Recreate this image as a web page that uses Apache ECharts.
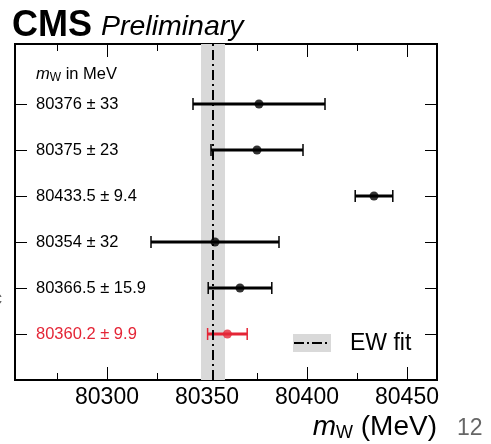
<!DOCTYPE html>
<html>
<head>
<meta charset="utf-8">
<script src="https://cdn.jsdelivr.net/npm/echarts@6/dist/echarts.min.js"></script>
<style>html,body{margin:0;padding:0;background:#fff;}#c{width:491px;height:444px;}</style>
</head>
<body>
<div id="c"></div>
<script>
// ---- data ----
const centers = [80376, 80375, 80433.5, 80354, 80366.5, 80360.2];
const errors = [33, 23, 9.4, 32, 15.9, 9.9];
const labels = ['80376 ± 33', '80375 ± 23', '80433.5 ± 9.4', '80354 ± 32', '80366.5 ± 15.9', '80360.2 ± 9.9'];
const highlightIndex = 5;
const ewFit = 80353;
const ewFitErr = 6;
const xMajorTicks = [80300, 80350, 80400, 80450];
const xMinorTicks = [80275, 80325, 80375, 80425];
const xMin = 80254, xMax = 80465;

const n = centers.length;
const rowY = centers.map((c, i) => n - i);
const yTicks = rowY.slice();
const yMax = n + 1.304;

const FONT = '"Liberation Sans", Arial, Helvetica, sans-serif';
const RED = '#e42536';

const chart = echarts.init(document.getElementById('c'));

const barData = centers.map((c, i) => [c, rowY[i], c - errors[i], c + errors[i], i]);
const ptData = centers.map((c, i) => ({
  value: [c, rowY[i]],
  itemStyle: { color: i === highlightIndex ? RED : '#000' }
}));

function xAxisCommon(pos, ticks, len, showLabel) {
  return {
    type: 'value', min: xMin, max: xMax, position: pos,
    axisLine: { show: false },
    splitLine: { show: false },
    axisTick: { show: true, inside: true, length: len, customValues: ticks, lineStyle: { color: '#000', width: 1 } },
    axisLabel: showLabel ? {
      show: true, customValues: ticks, margin: 6, color: '#000', fontSize: 23, fontFamily: FONT,
      formatter: v => String(v)
    } : { show: false }
  };
}

const option = {
  animation: false,
  backgroundColor: '#fff',
  grid: { left: 15, right: 54, top: 44, bottom: 64, show: true, borderColor: '#000', borderWidth: 2, backgroundColor: 'transparent' },
  xAxis: [
    xAxisCommon('bottom', xMajorTicks, 13, true),
    xAxisCommon('bottom', xMinorTicks, 7, false),
    xAxisCommon('top', xMajorTicks, 13, false),
    xAxisCommon('top', xMinorTicks, 7, false)
  ],
  yAxis: [
    {
      type: 'value', min: 0, max: yMax, position: 'left',
      axisLine: { show: false }, splitLine: { show: false },
      axisTick: { show: true, inside: true, length: 12, customValues: yTicks, lineStyle: { color: '#000' } },
      axisLabel: {
        show: true, inside: true, margin: 21, customValues: yTicks, align: 'left',
        fontSize: 16.5, fontFamily: FONT, color: '#000',
        formatter: v => {
          const i = n - v;
          return i === highlightIndex ? '{r|' + labels[i] + '}' : labels[i];
        },
        rich: { r: { color: RED, fontSize: 16.5, fontFamily: FONT } }
      }
    },
    {
      type: 'value', min: 0, max: yMax, position: 'right',
      axisLine: { show: false }, splitLine: { show: false },
      axisTick: { show: true, inside: true, length: 12, customValues: yTicks, lineStyle: { color: '#000' } },
      axisLabel: { show: false }
    }
  ],
  series: [
    {
      type: 'line', data: [], xAxisIndex: 0, yAxisIndex: 0, z: 1,
      markArea: {
        silent: true,
        itemStyle: { color: '#d9d9d9' },
        data: [[{ xAxis: ewFit - ewFitErr }, { xAxis: ewFit + ewFitErr }]]
      },
      markLine: {
        silent: true, symbol: 'none', label: { show: false },
        lineStyle: { color: '#000', width: 2, type: [10, 4, 2, 4] },
        data: [{ xAxis: ewFit }]
      }
    },
    {
      type: 'custom', z: 3,
      data: barData,
      renderItem: (params, api) => {
        const y = api.value(1);
        const lo = api.coord([api.value(2), y]);
        const hi = api.coord([api.value(3), y]);
        const col = api.value(4) === highlightIndex ? RED : '#000';
        const style = { stroke: col, lineWidth: 3 };
        const capStyle = { stroke: col, lineWidth: 1.5 };
        return {
          type: 'group',
          children: [
            { type: 'line', shape: { x1: lo[0], y1: lo[1], x2: hi[0], y2: hi[1] }, style },
            { type: 'line', shape: { x1: lo[0], y1: lo[1] - 6, x2: lo[0], y2: lo[1] + 6 }, style: capStyle },
            { type: 'line', shape: { x1: hi[0], y1: hi[1] - 6, x2: hi[0], y2: hi[1] + 6 }, style: capStyle }
          ]
        };
      }
    },
    {
      type: 'scatter', z: 4, symbol: 'circle', symbolSize: 9,
      data: ptData
    }
  ],
  graphic: [
    { type: 'text', left: 12, top: 8, style: { text: 'CMS', font: 'bold 36px ' + FONT, fill: '#000' } },
    { type: 'text', left: 101, top: 13, style: { text: 'Preliminary', font: 'italic 28.5px ' + FONT, fill: '#000' } },
    { type: 'text', left: 36, top: 66, style: {
      text: '{m|m}{s|W}{t| in MeV}',
      rich: {
        m: { fontSize: 16.5, fontStyle: 'italic', fontFamily: FONT, lineHeight: 19 },
        s: { fontSize: 12, fontFamily: FONT, verticalAlign: 'bottom', padding: [6, 0, 0, 0], lineHeight: 13 },
        t: { fontSize: 16.5, fontFamily: FONT, lineHeight: 19 }
      }
    } },
    { type: 'rect', shape: { x: 293, y: 334, width: 38, height: 18 }, style: { fill: '#d9d9d9' } },
    { type: 'line', shape: { x1: 294, y1: 343, x2: 330, y2: 343 }, style: { stroke: '#000', lineWidth: 2, lineDash: [10, 3, 2, 3] } },
    { type: 'text', left: 350, top: 332, style: { text: 'EW fit', font: '23px ' + FONT, fill: '#000' } },
    { type: 'text', right: 54, top: 413, style: {
      text: '{m|m}{s|W}{t| (MeV)}',
      rich: {
        m: { fontSize: 28, fontStyle: 'italic', fontFamily: FONT, lineHeight: 30 },
        s: { fontSize: 18, fontFamily: FONT, verticalAlign: 'bottom', padding: [11, 0, 0, 0], lineHeight: 19 },
        t: { fontSize: 28, fontFamily: FONT, lineHeight: 30 }
      }
    } },
    { type: 'text', left: 457, top: 417, style: { text: '12', font: '23px ' + FONT, fill: '#666' } },
    { type: 'text', left: -7, top: 290, style: { text: 'c', font: '18px ' + FONT, fill: '#666' } }
  ]
};
chart.setOption(option);
</script>
</body>
</html>
